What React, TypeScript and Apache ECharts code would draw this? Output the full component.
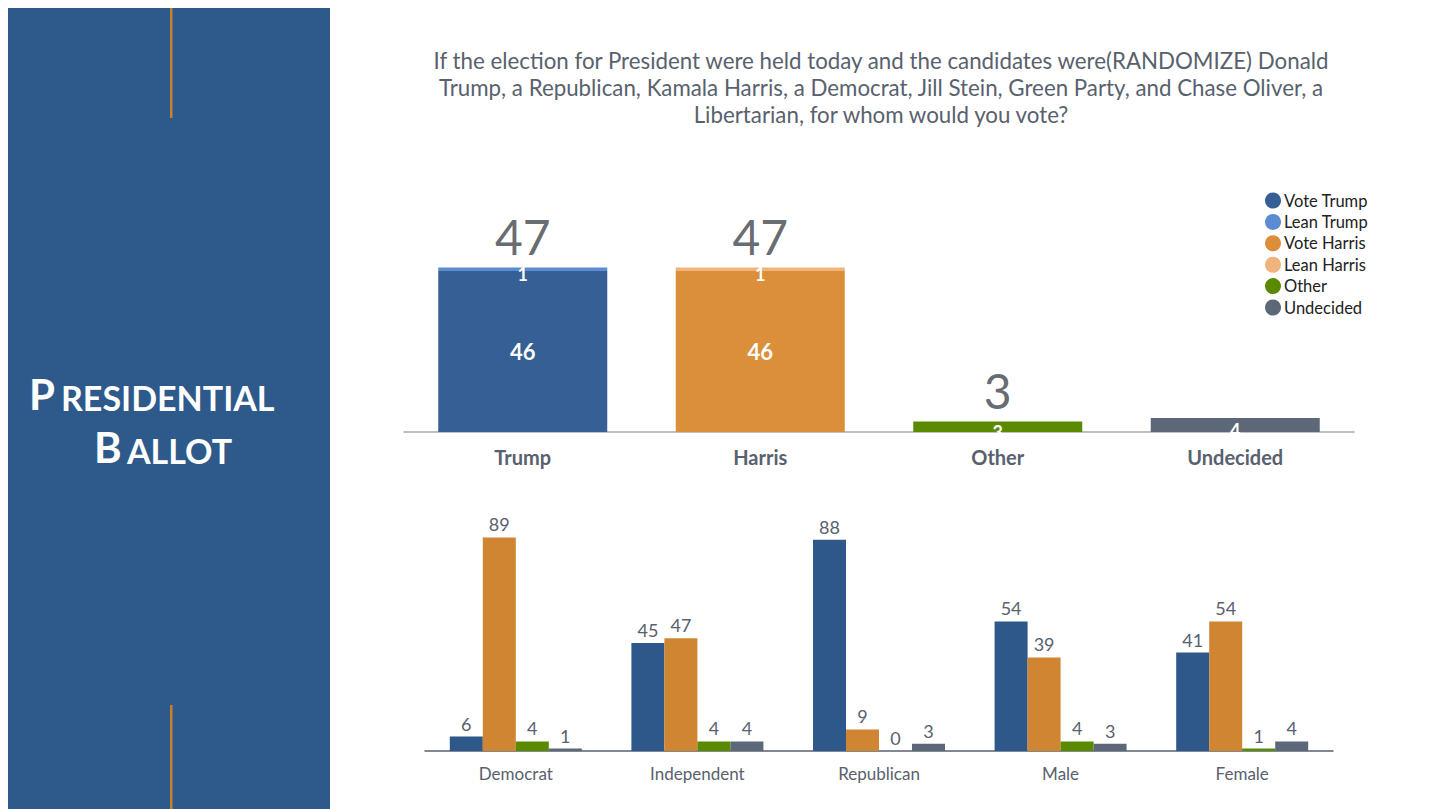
import React, { useEffect, useRef } from 'react';
import * as echarts from 'echarts';

const topCategories = ['Trump', 'Harris', 'Other', 'Undecided'];
const topVoteTrump = [46, '-', '-', '-'];
const topLeanTrump = [1, '-', '-', '-'];
const topVoteHarris = ['-', 46, '-', '-'];
const topLeanHarris = ['-', 1, '-', '-'];
const topOther = ['-', '-', 3, '-'];
const topUndecided = ['-', '-', '-', 4];
const topTotals = [47, 47, 3, '-'];

const groupCategories = ['Democrat', 'Independent', 'Republican', 'Male', 'Female'];
const groupVoteTrump = [6, 45, 88, 54, 41];
const groupVoteHarris = [89, 47, 9, 39, 54];
const groupOther = [4, 4, 0, 4, 1];
const groupUndecided = [1, 4, 3, 3, 4];

const legendNames = ['Vote Trump', 'Lean Trump', 'Vote Harris', 'Lean Harris', 'Other', 'Undecided'];

const titleLines = [
  'If the election for President were held today and the candidates were(RANDOMIZE) Donald',
  'Trump, a Republican, Kamala Harris, a Democrat, Jill Stein, Green Party, and Chase Oliver, a',
  'Libertarian, for whom would you vote?',
];

const FONT = 'Lato, "Open Sans", sans-serif';
const C = {
  voteTrump: '#365f96',
  leanTrump: '#5b8bd0',
  voteHarris: '#dc8f3a',
  leanHarris: '#efb47b',
  other: '#5a8a00',
  undecided: '#5c6877',
  gTrump: '#2d5889',
  gHarris: '#d08532',
  text: '#58616d',
  panel: '#2e5a8b',
  accent: '#c8802a',
};

export default function App() {
  const ref = useRef<HTMLDivElement>(null);
  useEffect(() => {
    if (!ref.current) return;
    const chart = echarts.init(ref.current, null, { renderer: 'svg' });
    const insideLabel = {
      show: true,
      position: 'inside',
      color: '#ffffff',
      fontWeight: 'bold',
      fontSize: 22,
      fontFamily: FONT,
    };
    const thinLabel = {
      ...insideLabel,
      fontSize: 18,
      lineHeight: 12,
      offset: [0, 5],
    };
    const smallLabel = {
      show: true,
      position: 'top',
      distance: 4,
      color: C.text,
      fontSize: 18,
      fontFamily: FONT,
    };
    const topBar = (name: string, data: any[], color: string, label: any) => ({
      name,
      type: 'bar',
      stack: 'total',
      xAxisIndex: 0,
      yAxisIndex: 0,
      barWidth: 169,
      data,
      itemStyle: { color },
      label,
    });
    const groupBar = (name: string, data: number[], color: string) => ({
      name,
      type: 'bar',
      xAxisIndex: 1,
      yAxisIndex: 1,
      barWidth: 33,
      barGap: '0%',
      data,
      itemStyle: { color },
      label: smallLabel,
    });
    chart.setOption({
      animation: false,
      backgroundColor: '#ffffff',
      textStyle: { fontFamily: FONT },
      graphic: [
        { type: 'rect', shape: { x: 8, y: 8, width: 322, height: 801 }, style: { fill: C.panel } },
        { type: 'rect', shape: { x: 170, y: 8, width: 2.5, height: 110 }, style: { fill: C.accent } },
        { type: 'rect', shape: { x: 170, y: 705, width: 2.5, height: 104 }, style: { fill: C.accent } },
        { type: 'text', x: 29, y: 394, style: { text: 'P', fill: '#ffffff', font: `bold 42px ${FONT}`, verticalAlign: 'middle' } },
        { type: 'text', x: 61, y: 397, style: { text: 'RESIDENTIAL', fill: '#ffffff', font: `bold 34px ${FONT}`, verticalAlign: 'middle' } },
        { type: 'text', x: 94, y: 447, style: { text: 'B', fill: '#ffffff', font: `bold 42px ${FONT}`, verticalAlign: 'middle' } },
        { type: 'text', x: 127, y: 450, style: { text: 'ALLOT', fill: '#ffffff', font: `bold 34px ${FONT}`, verticalAlign: 'middle' } },
        {
          type: 'text',
          x: 881,
          y: 47,
          style: {
            text: titleLines.join('\n'),
            fill: C.text,
            font: `22.3px ${FONT}`,
            lineHeight: 27,
            align: 'center',
            verticalAlign: 'top',
          },
        },
      ],
      legend: {
        data: legendNames,
        orient: 'vertical',
        left: 1265,
        top: 192,
        icon: 'circle',
        itemWidth: 16,
        itemHeight: 16,
        itemGap: 4.4,
        padding: 0,
        textStyle: { fontSize: 16.5, color: '#222222', fontFamily: FONT, padding: [0, 0, 0, -2] },
        selectedMode: false,
      },
      grid: [
        { left: 404, top: 257, width: 950, height: 175 },
        { left: 425, top: 511, width: 908, height: 240 },
      ],
      xAxis: [
        {
          type: 'category',
          gridIndex: 0,
          data: topCategories,
          axisTick: { show: false },
          axisLine: { lineStyle: { color: '#a8a8a8', width: 1.5 } },
          axisLabel: { color: C.text, fontSize: 20, fontWeight: 'bold', margin: 15, fontFamily: FONT },
        },
        {
          type: 'category',
          gridIndex: 1,
          data: groupCategories,
          axisTick: { show: false },
          axisLine: { lineStyle: { color: '#58616d', width: 1.5 } },
          axisLabel: { color: C.text, fontSize: 17, margin: 14, fontFamily: FONT },
        },
      ],
      yAxis: [
        { type: 'value', gridIndex: 0, min: 0, max: 50, show: false, splitLine: { show: false } },
        { type: 'value', gridIndex: 1, min: 0, max: 100, show: false, splitLine: { show: false } },
      ],
      series: [
        topBar('Vote Trump', topVoteTrump, C.voteTrump, insideLabel),
        topBar('Lean Trump', topLeanTrump, C.leanTrump, thinLabel),
        topBar('Vote Harris', topVoteHarris, C.voteHarris, insideLabel),
        topBar('Lean Harris', topLeanHarris, C.leanHarris, thinLabel),
        topBar('Other', topOther, C.other, thinLabel),
        topBar('Undecided', topUndecided, C.undecided, thinLabel),
        {
          name: 'Total',
          type: 'scatter',
          xAxisIndex: 0,
          yAxisIndex: 0,
          symbolSize: 1,
          itemStyle: { color: 'rgba(0,0,0,0)' },
          data: topTotals,
          label: {
            show: true,
            position: 'top',
            distance: 12,
            lineHeight: 38,
            color: '#3f4349',
            fontSize: 48,
            fontFamily: FONT,
          },
        },
        groupBar('Vote Trump', groupVoteTrump, C.gTrump),
        groupBar('Vote Harris', groupVoteHarris, C.gHarris),
        groupBar('Other', groupOther, C.other),
        groupBar('Undecided', groupUndecided, C.undecided),
      ],
    });
    return () => chart.dispose();
  }, []);
  return (
    <div
      ref={ref}
      style={{ position: 'fixed', left: 0, top: 0, width: 1453, height: 809 }}
    />
  );
}
